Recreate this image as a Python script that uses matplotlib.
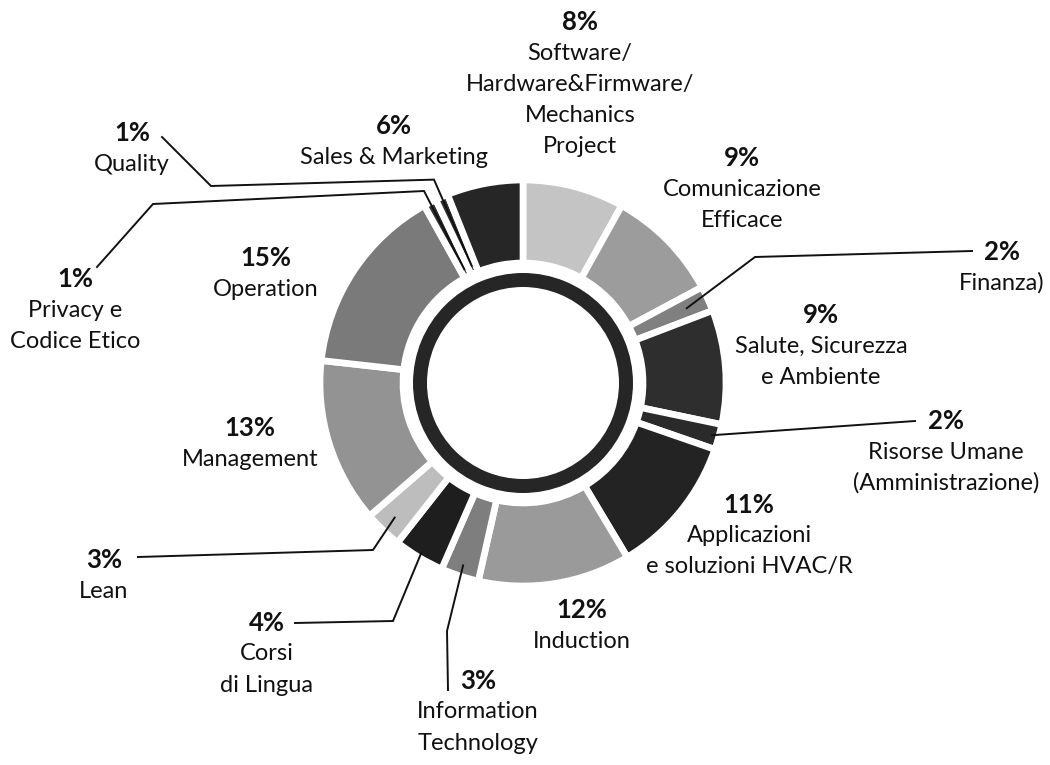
import numpy as np
import matplotlib
matplotlib.use("Agg")
import matplotlib.pyplot as plt
from matplotlib.patches import Wedge

# ---- data ----
categories = [
    "Software/\nHardware&Firmware/\nMechanics\nProject",
    "Comunicazione\nEfficace",
    "Finanza)",
    "Salute, Sicurezza\ne Ambiente",
    "Risorse Umane\n(Amministrazione)",
    "Applicazioni\ne soluzioni HVAC/R",
    "Induction",
    "Information\nTechnology",
    "Corsi\ndi Lingua",
    "Lean",
    "Management",
    "Operation",
    "Privacy e\nCodice Etico",
    "Quality",
    "Sales & Marketing",
]
values = [8, 9, 2, 9, 2, 11, 12, 3, 4, 3, 13, 15, 1, 1, 6]
colors = ["#c4c4c4", "#9c9c9c", "#808080", "#2e2e2e", "#2a2a2a", "#232323",
          "#9a9a9a", "#7e7e7e", "#1e1e1e", "#bdbdbd", "#939393", "#7a7a7a",
          "#303030", "#303030", "#262626"]

# ---- layout (pixel coordinates, y measured from top) ----
W, H = 1050, 765
CX, CY = 523, 383
R_OUT, R_IN = 203, 120
# label anchor: (x center, y of percent line)
label_pos = [(580, 22), (742, 158), (1002, 252), (821, 315), (946, 421),
             (749, 505), (582, 610), (478, 681), (267, 623), (104, 560),
             (250, 428), (266, 258), (75, 279), (132, 133), (394, 126)]
STEP = 31

fig = plt.figure(figsize=(W / 100, H / 100), dpi=100)
ax = fig.add_axes([0, 0, 1, 1])


def Y(py):
    return H - py


wedges, _ = ax.pie(values, colors=colors, startangle=90, counterclock=False,
                   radius=R_OUT, center=(CX, Y(CY)), frame=True,
                   wedgeprops=dict(width=R_OUT - R_IN, edgecolor="white",
                                   linewidth=4.8))
ax.set_xlim(0, W)
ax.set_ylim(0, H)
ax.set_aspect("equal")
ax.axis("off")

# inner dark ring
ax.add_patch(Wedge((CX, Y(CY)), 110, 0, 360, width=14, facecolor="#262626",
                   edgecolor="none"))

FONT = "Lato"
for (x, y), val, cat in zip(label_pos, values, categories):
    ax.text(x, Y(y), f"{val}%", ha="center", va="center", fontsize=18.5,
            fontweight="bold", family=FONT, color="#111111")
    for i, line in enumerate(cat.split("\n")):
        ax.text(x, Y(y + STEP * (i + 1)), line, ha="center", va="center",
                fontsize=17, family=FONT, color="#111111")


def polar(idx, r):
    w = wedges[idx]
    mid = np.deg2rad((w.theta1 + w.theta2) / 2)
    return CX + r * np.cos(mid), Y(CY) + r * np.sin(mid)


# leader lines: typed elbow points (layout) + end inside the wedge
leaders = {
    13: ([(162, 137), (211, 186)], [222, 128]),        # Quality
    12: ([(97, 267), (153, 204)], [216, 128]),         # Privacy
    2: ([(972, 251), (755, 257)], [180]),              # Finanza
    4: ([(915, 421)], [196]),                          # Risorse Umane
    9: ([(138, 557), (373, 550)], [186]),              # Lean
    8: ([(295, 623), (393, 621)], [198]),              # Corsi
    7: ([(448, 690), (447, 631)], [192]),              # IT
}
for idx, (pts, radii) in leaders.items():
    xs = [p[0] for p in pts]
    ys = [Y(p[1]) for p in pts]
    for r in radii:
        px, py = polar(idx, r)
        xs.append(px)
        ys.append(py)
    ax.plot(xs, ys, color="#111111", lw=1.4, solid_joinstyle="miter",
            zorder=5)

fig.savefig("out.png", dpi=100, facecolor="white")
